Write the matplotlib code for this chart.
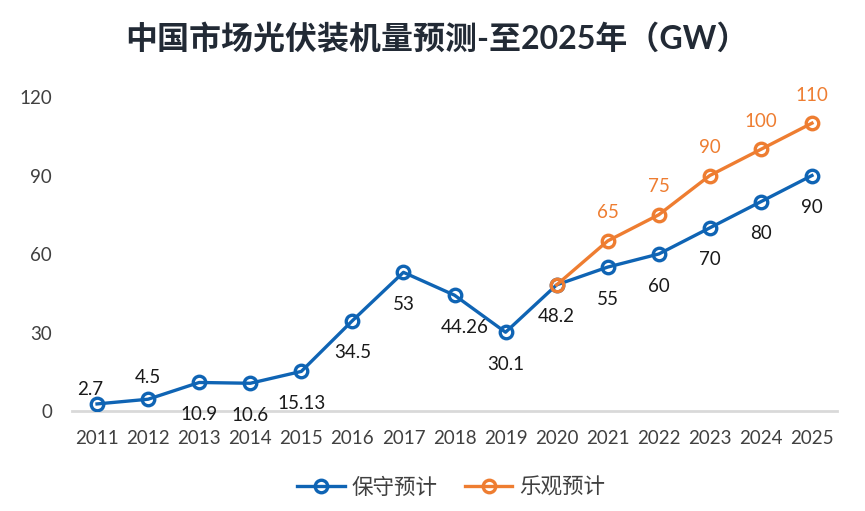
import matplotlib
matplotlib.use("Agg")
import matplotlib.pyplot as plt
from matplotlib.lines import Line2D

plt.rcParams["font.family"] = ["Lato", "Noto Sans CJK SC", "DejaVu Sans"]

years = ["2011", "2012", "2013", "2014", "2015", "2016", "2017", "2018",
         "2019", "2020", "2021", "2022", "2023", "2024", "2025"]
conservative = [2.7, 4.5, 10.9, 10.6, 15.13, 34.5, 53, 44.26,
                30.1, 48.2, 55, 60, 70, 80, 90]
cons_labels = ["2.7", "4.5", "10.9", "10.6", "15.13", "34.5", "53", "44.26",
               "30.1", "48.2", "55", "60", "70", "80", "90"]
opt_years_idx = [9, 10, 11, 12, 13, 14]
optimistic = [48.2, 65, 75, 90, 100, 110]
opt_labels = ["", "65", "75", "90", "100", "110"]
yticks = [0, 30, 60, 90, 120]

BLUE = "#0f64b4"
ORANGE = "#ee7d31"
TEXT = "#404040"

fig = plt.figure(figsize=(8.65, 5.11), dpi=100)
ax = fig.add_axes([71.5 / 865, 1 - 411 / 511, 766 / 865, 314 / 511])

x = list(range(len(years)))
mk = dict(marker="o", markersize=9, markerfacecolor="none", markeredgewidth=2.4)
ax.plot(x, conservative, color=BLUE, lw=2.4, zorder=3, **mk)
ax.plot(opt_years_idx, optimistic, color=ORANGE, lw=2.4, zorder=4, **mk)

# data labels, conservative series
for i, (v, lab) in enumerate(zip(conservative, cons_labels)):
    if i == 0:
        off = (-7, 14)
    elif i == 1:
        off = (0, 22)
    elif i == 7:
        off = (10, -32)
    else:
        off = (0, -32)
    ax.annotate(lab, (i, v), xytext=off, textcoords="offset pixels",
                ha="center", va="center", fontsize=13.5, color="#1a1a1a",
                annotation_clip=False)

for i, v, lab in zip(opt_years_idx, optimistic, opt_labels):
    if lab:
        ax.annotate(lab, (i, v), xytext=(0, 28), textcoords="offset pixels",
                    ha="center", va="center", fontsize=13.5, color=ORANGE,
                    annotation_clip=False)

ax.set_xlim(-0.5, len(years) - 0.5)
ax.set_ylim(0, 120)
ax.set_xticks(x)
ax.set_xticklabels(years)
ax.set_yticks(yticks)
ax.set_yticklabels([str(t) for t in yticks])
ax.tick_params(axis="both", length=0, labelsize=13.5, labelcolor=TEXT)
ax.tick_params(axis="x", pad=14)
ax.tick_params(axis="y", pad=14)
for s in ["top", "right", "left"]:
    ax.spines[s].set_visible(False)
ax.spines["bottom"].set_color("#d9d9d9")
ax.spines["bottom"].set_linewidth(2)
ax.spines["bottom"].set_zorder(1)

fig.text(437 / 865, 1 - 38 / 511, "中国市场光伏装机量预测-至2025年（GW）", ha="center",
         va="center", fontsize=23, fontweight="bold", color="#222a35")

handles = [Line2D([], [], color=BLUE, lw=2.4, **mk),
           Line2D([], [], color=ORANGE, lw=2.4, **mk)]
fig.legend(handles, ["保守预计", "乐观预计"], loc="center",
           bbox_to_anchor=(451 / 865, 1 - 488 / 511), ncol=2, frameon=False,
           handlelength=2.2, handletextpad=0.3, columnspacing=1.3,
           labelcolor=TEXT, prop={"family": ["Noto Sans CJK SC"], "size": 15.5})

fig.savefig("out.png", dpi=100, facecolor="white")
